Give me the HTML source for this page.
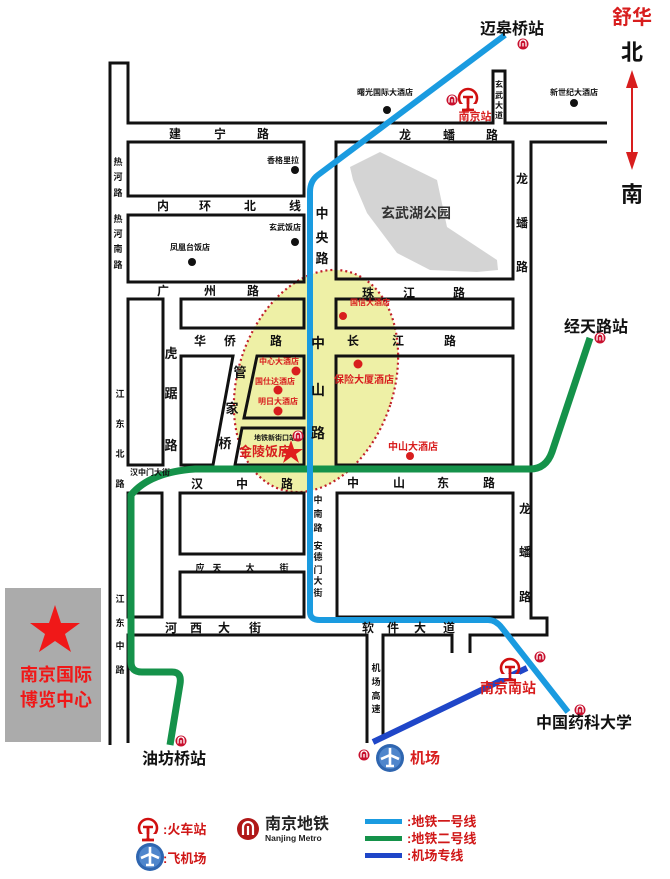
<!DOCTYPE html>
<html><head><meta charset="utf-8"><style>
html,body{margin:0;padding:0;background:#fff}
svg{display:block}
text{font-family:"Liberation Sans","Noto Sans CJK SC",sans-serif;text-anchor:middle;font-weight:bold}
</style></head><body>
<svg width="670" height="879" viewBox="0 0 670 879" xmlns="http://www.w3.org/2000/svg">
<defs>
<g id="m"><circle r="5.5" fill="#c8102e"/><path d="M-3,2.5 V-1 A3,3 0 0 1 3,-1 V2.5 M0,2.5 V-1" stroke="#fff" stroke-width="1.3" fill="none"/></g>
<g id="t"><circle cy="-2" r="9" fill="none" stroke="#d01010" stroke-width="2.6"/><path d="M-5,-3 H5 M0,-3 V10 M-6,10 H6" stroke="#d01010" stroke-width="2.6" fill="none"/><rect x="-10" y="4" width="20" height="4" fill="#fff"/><path d="M0,-3 V10 M-6,10 H6" stroke="#d01010" stroke-width="2.6"/></g>
<g id="p"><circle r="14" fill="#2f66b0"/><circle r="11" fill="#4f86cc"/><path d="M0,-10 V9 M-9,1 L0,-3 L9,1 M-4,8 H4" stroke="#fff" stroke-width="2.6" fill="none"/></g>
</defs>
<!-- lake -->
<path d="M350,167 L380,152 L437,180 L447,227 L497,260 L498,270 L477,272 L430,270 L397,253 L367,213 L353,180Z" fill="#d4d4d4"/>
<!-- ellipse -->
<ellipse cx="316" cy="381" rx="78" ry="114" transform="rotate(18 316 381)" fill="#eef0a6" stroke="#c0202a" stroke-width="2.2" stroke-dasharray="2 3"/>
<!-- roads -->
<g fill="none" stroke="#111" stroke-width="3">
<path d="M110,745 V63 H128 V123 H493 V71 H505 V123 H607"/>
<path d="M607,142 H531 V618 H547 V635 H470 V653"/>
<path d="M452,653 V635 H383 V737"/>
<path d="M367,743 V635 H128 V743"/>
<rect x="128" y="142" width="176" height="54"/>
<rect x="128" y="215" width="176" height="67"/>
<rect x="336" y="142" width="177" height="137"/>
<rect x="128" y="299" width="35" height="166"/>
<rect x="181" y="299" width="123" height="29"/>
<path d="M181,356 H233 L213,465 H181Z"/>
<path d="M257,356 H304 V418 H244Z"/>
<path d="M242,428 H304 V465 H235Z"/>
<rect x="336" y="299" width="177" height="29"/>
<rect x="336" y="356" width="177" height="109"/>
<rect x="128" y="493" width="34" height="124"/>
<rect x="180" y="493" width="124" height="61"/>
<rect x="180" y="572" width="124" height="45"/>
<rect x="337" y="493" width="176" height="124"/>
</g>
<!-- metro lines -->
<path d="M590,338 L552,452 Q546,469 530,469 L195,469 Q150,472 131,495 L131,662 Q131,672 142,672 L172,672 Q182,672 180,684 L170,745" fill="none" stroke="#15924a" stroke-width="7"/>
<path d="M505,35 L318,175 Q310,181 310,192 L310,612 Q310,620 320,620 L488,620 Q496,620 502,628 L568,712" fill="none" stroke="#1a9be0" stroke-width="6"/>
<path d="M373,742 L527,668" stroke="#1f46c8" stroke-width="6"/>
<!-- labels black roads -->
<g font-size="12" fill="#111">
<text x="175" y="138">建</text><text x="220" y="138">宁</text><text x="263" y="138">路</text>
<text x="405" y="139">龙</text><text x="449" y="139">蟠</text><text x="492" y="139">路</text>
<text x="163" y="210">内</text><text x="205" y="210">环</text><text x="250" y="210">北</text><text x="295" y="210">线</text>
<text x="163" y="295">广</text><text x="210" y="295">州</text><text x="253" y="295">路</text>
<text x="368" y="297">珠</text><text x="409" y="297">江</text><text x="459" y="297">路</text>
<text x="200" y="345">华</text><text x="230" y="345">侨</text><text x="276" y="345">路</text>
<text x="353" y="345">长</text><text x="398" y="345">江</text><text x="450" y="345">路</text>
<text x="197" y="488">汉</text><text x="242" y="488">中</text><text x="287" y="488">路</text>
<text x="353" y="487">中</text><text x="399" y="487">山</text><text x="443" y="487">东</text><text x="489" y="487">路</text>
<text x="171" y="632">河</text><text x="196" y="632">西</text><text x="224" y="632">大</text><text x="255" y="632">街</text>
<text x="368" y="632">软</text><text x="393" y="632">件</text><text x="420" y="632">大</text><text x="449" y="632">道</text>
<text x="522" y="183">龙</text><text x="522" y="227">蟠</text><text x="522" y="271">路</text>
<text x="525" y="513">龙</text><text x="525" y="556">蟠</text><text x="525" y="601">路</text>
<text x="171" y="358" font-size="13">虎</text><text x="171" y="398" font-size="13">踞</text><text x="171" y="450" font-size="13">路</text>
<text x="240" y="377" font-size="13">管</text><text x="232" y="413" font-size="13">家</text><text x="225" y="448" font-size="13">桥</text>
<text x="322" y="218" font-size="13">中</text><text x="322" y="242" font-size="13">央</text><text x="322" y="263" font-size="13">路</text>
<text x="318" y="348" font-size="14">中</text><text x="318" y="395" font-size="14">山</text><text x="318" y="438" font-size="14">路</text>
<text x="416" y="218" font-size="14" fill="#333">玄武湖公园</text>
</g>
<g font-size="9" fill="#111">
<text x="118" y="165">热</text><text x="118" y="180">河</text><text x="118" y="196">路</text>
<text x="118" y="222">热</text><text x="118" y="237">河</text><text x="118" y="252">南</text><text x="118" y="268">路</text>
<text x="120" y="397">江</text><text x="120" y="427">东</text><text x="120" y="457">北</text><text x="120" y="487">路</text>
<text x="120" y="602">江</text><text x="120" y="626">东</text><text x="120" y="649">中</text><text x="120" y="673">路</text>
<text x="318" y="503">中</text><text x="318" y="517">南</text><text x="318" y="531">路</text><text x="318" y="549">安</text><text x="318" y="560">德</text><text x="318" y="573">门</text><text x="318" y="584">大</text><text x="318" y="596">街</text>
<text x="376" y="671">机</text><text x="376" y="685">场</text><text x="376" y="699">高</text><text x="376" y="712">速</text>
<text x="499" y="87" font-size="8">玄</text><text x="499" y="98" font-size="8">武</text><text x="499" y="108" font-size="8">大</text><text x="499" y="118" font-size="8">道</text>
<text x="200" y="571">应</text><text x="217" y="571">天</text><text x="250" y="571">大</text><text x="284" y="571">街</text>
<text x="150" y="475" font-size="8">汉中门大街</text>
<text x="275" y="440" font-size="7">地铁新街口站</text>
<text x="385" y="95" font-size="8">曙光国际大酒店</text>
<text x="574" y="95" font-size="8">新世纪大酒店</text>
<text x="283" y="163" font-size="8">香格里拉</text>
<text x="285" y="230" font-size="8">玄武饭店</text>
<text x="190" y="250" font-size="8">凤凰台饭店</text>
</g>
<g fill="#111"><circle cx="387" cy="110" r="4"/><circle cx="574" cy="103" r="4"/><circle cx="295" cy="170" r="4"/><circle cx="295" cy="242" r="4"/><circle cx="192" cy="262" r="4"/></g>
<g fill="#d81e1e"><circle cx="343" cy="316" r="4"/><circle cx="296" cy="371" r="4.5"/><circle cx="278" cy="390" r="4.5"/><circle cx="278" cy="411" r="4.5"/><circle cx="358" cy="364" r="4.5"/><circle cx="410" cy="456" r="4"/></g>
<g fill="#d81e1e" font-size="8">
<text x="370" y="305">国信大酒店</text><text x="279" y="364">中心大酒店</text><text x="275" y="384">国仕达酒店</text><text x="278" y="404">明日大酒店</text>
<text x="364" y="383" font-size="10">保险大厦酒店</text><text x="413" y="450" font-size="10">中山大酒店</text>
<text x="265" y="456" font-size="13">金陵饭店</text>
<text x="475" y="120" font-size="11">南京站</text>
<text x="508" y="693" font-size="14" font-weight="normal">南京南站</text>
<text x="425" y="763" font-size="15" font-weight="normal">机场</text>
<text x="632" y="24" font-size="20" font-weight="normal">舒华</text>
</g>
<path d="M291,440 L294,449 L303,449 L296,454 L299,463 L291,457 L283,463 L286,454 L279,449 L288,449Z" fill="#e01e1e"/>
<!-- icons -->
<use href="#m" x="523" y="44"/><use href="#m" x="600" y="338"/><use href="#m" x="181" y="741"/><use href="#m" x="580" y="710"/><use href="#m" x="540" y="657"/><use href="#m" x="364" y="755"/><use href="#m" x="452" y="100"/><use href="#m" x="298" y="436"/>
<use href="#t" x="468" y="100"/><use href="#t" x="510" y="670"/>
<use href="#p" x="390" y="758"/>
<g fill="#111" font-size="16" font-weight="normal">
<text x="512" y="34">迈皋桥站</text><text x="596" y="332">经天路站</text><text x="174" y="764">油坊桥站</text><text x="584" y="728">中国药科大学</text>
<text x="632" y="60" font-size="22" font-weight="bold">北</text><text x="632" y="202" font-size="22" font-weight="bold">南</text>
</g>
<path d="M632,80 V160" stroke="#d81e1e" stroke-width="2"/>
<path d="M632,70 L626,88 H638Z M632,170 L626,152 H638Z" fill="#d81e1e"/>
<!-- expo -->
<rect x="5" y="588" width="96" height="154" fill="#ababab"/>
<path d="M55,605 L61,623 L80,623 L65,634 L71,652 L55,641 L39,652 L45,634 L30,623 L49,623Z" fill="#f01818"/>
<text x="56" y="681" font-size="18" fill="#f01818">南京国际</text>
<text x="56" y="706" font-size="18" fill="#f01818">博览中心</text>
<!-- legend -->
<use href="#t" x="148" y="830"/><use href="#p" x="150" y="857"/>
<g fill="#d01818" font-size="13" style="text-anchor:start">
<text x="163" y="834" style="text-anchor:start">:火车站</text>
<text x="163" y="863" style="text-anchor:start">:飞机场</text>
<text x="407" y="826" style="text-anchor:start">:地铁一号线</text>
<text x="407" y="843" style="text-anchor:start">:地铁二号线</text>
<text x="407" y="860" style="text-anchor:start">:机场专线</text>
</g>
<circle cx="248" cy="829" r="11" fill="#b01818"/><path d="M243,835 V827 A5,5 0 0 1 253,827 V835 M248,835 V826" stroke="#fff" stroke-width="2.2" fill="none"/>
<text x="265" y="829" font-size="16" fill="#222" style="text-anchor:start">南京地铁</text>
<text x="265" y="841" font-size="8.5" fill="#222" style="text-anchor:start">Nanjing Metro</text>
<rect x="365" y="819" width="37" height="5" fill="#1a9be0"/>
<rect x="365" y="836" width="37" height="5" fill="#15924a"/>
<rect x="365" y="853" width="37" height="5" fill="#1f46c8"/>
</svg>
</body></html>
